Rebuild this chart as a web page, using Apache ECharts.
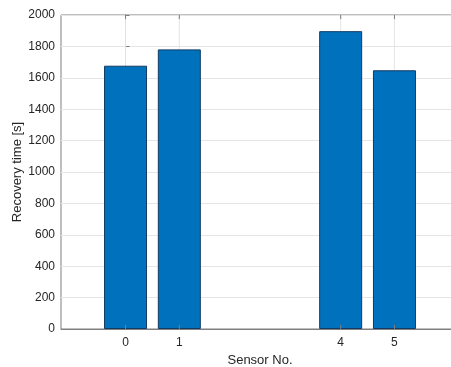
<!DOCTYPE html>
<html>
<head>
<meta charset="utf-8">
<script src="https://cdn.jsdelivr.net/npm/echarts@6/dist/echarts.min.js"></script>
<style>html,body{margin:0;padding:0;background:#fff;}#c{width:451px;height:367px;}</style>
</head>
<body>
<div id="c"></div>
<script>
const sensors = [0, 1, 4, 5];
const recoveryTimes = [1677, 1781, 1897, 1648];
const xTicks = [0, 1, 4, 5];
const yMin = 0, yMax = 2000, yTickInterval = 200;
const xMin = -1.2, xMax = 6.2, xStep = 0.2;

const chart = echarts.init(document.getElementById('c'), null, {renderer: 'canvas'});
const font = 'Liberation Sans, Arial, Helvetica, sans-serif';
const axisGray = '#7f7f7f';
const textCol = '#262626';
const gridCol = '#e5e5e5';
const tickLen = 26; // in y data units (~4px)

function lineSeries(pts, color, z) {
  return {
    type: 'line', z: z, silent: true, symbol: 'none', showSymbol: false,
    lineStyle: {color: color, width: 1}, emphasis: {disabled: true}, data: pts
  };
}
const gridSeries = xTicks.map(v => lineSeries([[v, yMin], [v, yMax]], gridCol, 1));
const topTickSeries = xTicks.map(v => lineSeries([[v, yMax], [v, yMax - tickLen]], axisGray, 4));
const bottomTickSeries = xTicks.map(v => lineSeries([[v, yMin], [v, yMin + tickLen]], axisGray, 4));

chart.setOption({
  animation: false,
  backgroundColor: '#ffffff',
  grid: {left: 61, top: 15, right: -8, bottom: 38, containLabel: false, outerBoundsMode: 'none',
         show: true, borderColor: axisGray, borderWidth: 1, backgroundColor: 'transparent'},
  xAxis: [{
    type: 'value', min: xMin, max: xMax, interval: xStep, position: 'bottom',
    name: 'Sensor No.', nameLocation: 'middle', nameGap: 24,
    nameTextStyle: {fontFamily: font, fontSize: 13, color: textCol},
    axisLine: {show: true, lineStyle: {color: axisGray, width: 1}},
    axisTick: {show: false},
    axisLabel: {
      show: true, margin: 8, fontFamily: font, fontSize: 12, color: textCol,
      showMinLabel: false, showMaxLabel: false, hideOverlap: false,
      formatter: v => {
        const r = Math.round(v);
        return (Math.abs(v - r) < 1e-6 && xTicks.indexOf(r) >= 0) ? String(r) : '';
      }
    },
    splitLine: {show: false}
  }],
  yAxis: [{
    type: 'value', min: yMin, max: yMax, interval: yTickInterval,
    name: 'Recovery time [s]', nameLocation: 'middle', nameGap: 37, nameMoveOverlap: false,
    nameTextStyle: {fontFamily: font, fontSize: 13, color: textCol},
    axisLine: {show: true, lineStyle: {color: axisGray, width: 1}},
    axisTick: {show: true, inside: true, length: 4, lineStyle: {color: axisGray}},
    axisLabel: {margin: 6, fontFamily: font, fontSize: 12, color: textCol, formatter: v => String(v)},
    splitLine: {show: true, lineStyle: {color: gridCol, width: 1}}
  }],
  series: gridSeries.concat(topTickSeries, bottomTickSeries, [{
    type: 'bar', z: 3,
    data: sensors.map((s, i) => [s, recoveryTimes[i]]),
    barWidth: 43,
    itemStyle: {color: '#0072BD', borderColor: '#123a63', borderWidth: 1}
  }])
});
</script>
</body>
</html>
